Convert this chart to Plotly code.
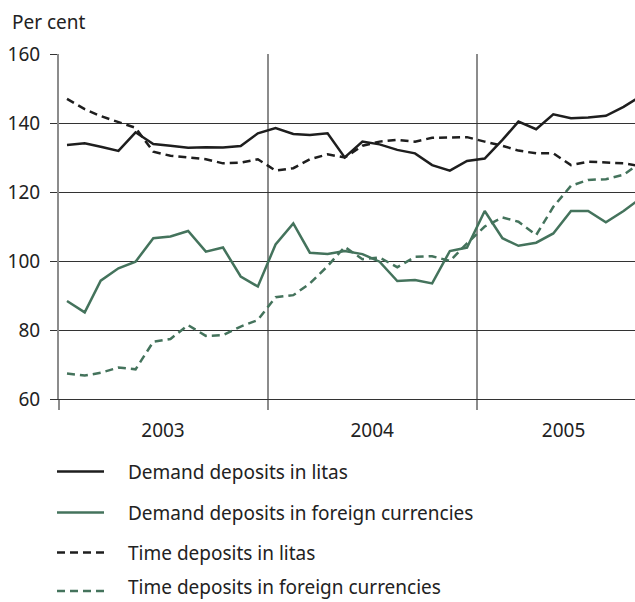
import pandas as pd
import plotly.graph_objects as go

# Monthly observations, Jan 2003 – Oct 2005
months = pd.date_range("2003-01-01", "2005-10-01", freq="MS") + pd.Timedelta(days=14)

demand_litas = [133.6, 134.1, 133.1, 131.9, 137.3, 133.9, 133.4, 132.8, 133.0, 132.9, 133.3, 137.0,
                138.5, 136.8, 136.5, 137.0, 130.0, 134.6, 133.8, 132.2, 131.2, 127.8, 126.2, 129.0,
                129.7, 135.1, 140.4, 138.2, 142.5, 141.4, 141.6, 142.1, 144.7, 147.8]
demand_fx = [88.4, 85.1, 94.3, 97.9, 99.8, 106.6, 107.1, 108.7, 102.7, 103.9, 95.5, 92.6,
             104.8, 110.9, 102.4, 102.0, 102.9, 102.0, 99.8, 94.2, 94.5, 93.5, 102.9, 103.9,
             114.5, 106.6, 104.4, 105.3, 108.0, 114.5, 114.5, 111.2, 114.5, 118.2]
time_litas = [147.0, 144.0, 142.0, 140.2, 138.6, 131.7, 130.5, 130.0, 129.5, 128.3, 128.5, 129.5,
              126.2, 126.9, 129.5, 130.9, 130.0, 133.4, 134.6, 135.1, 134.6, 135.7, 135.7, 135.9,
              134.6, 133.4, 132.0, 131.2, 131.2, 127.8, 128.8, 128.5, 128.3, 127.5]
time_fx = [67.4, 66.8, 67.6, 69.1, 68.6, 76.6, 77.4, 81.4, 78.3, 78.5, 81.0, 82.9,
           89.5, 90.1, 93.5, 98.5, 104.1, 100.5, 101.0, 98.2, 101.2, 101.4, 100.0, 105.1,
           110.0, 112.6, 111.4, 107.5, 115.7, 121.8, 123.5, 123.7, 125.0, 128.5]

names = ["Demand deposits in litas", "Demand deposits in foreign currencies",
         "Time deposits in litas", "Time deposits in foreign currencies"]
year_labels = ["2003", "2004", "2005"]
year_label_pos = ["2003-07-02", "2004-07-02", "2005-06-02"]
year_bounds = ["2003-01-01", "2004-01-01", "2005-01-01"]
y_ticks = [60, 80, 100, 120, 140, 160]

BLACK = "#1e1e1e"
GREEN = "#44735c"
FONT = "Noto Sans"
series = [
    (demand_litas, BLACK, "solid"),
    (demand_fx, GREEN, "solid"),
    (time_litas, BLACK, "8px,5px"),
    (time_fx, GREEN, "8px,5px"),
]

fig = go.Figure()
for (vals, col, dash), name in zip(series, names):
    fig.add_trace(go.Scatter(x=months, y=vals, mode="lines", name=name,
                             line=dict(color=col, width=2.5, dash=dash),
                             showlegend=False, cliponaxis=True))

L, R, T, B = 59, 635, 54, 399
W, H = 635, 602
pw, ph = R - L, B - T

fig.update_layout(
    width=W, height=H,
    margin=dict(l=L, r=W - R, t=T, b=H - B, pad=0),
    paper_bgcolor="white", plot_bgcolor="white",
    font=dict(family=FONT, size=19, color="#222222"),
)
fig.update_xaxes(
    range=["2003-01-01", "2005-10-05"],
    tickmode="array", tickvals=year_label_pos, ticktext=year_labels,
    ticks="", showgrid=False, zeroline=False,
    showline=True, linecolor="#333333", linewidth=1,
    ticklabelstandoff=14,
    tickfont=dict(size=19, color="#222222"),
    minor=dict(tickmode="array", tickvals=year_bounds, ticks="outside", ticklen=10,
               tickwidth=2, tickcolor="#8c8c8c", showgrid=True,
               gridcolor="#8c8c8c", gridwidth=2),
)
fig.update_yaxes(
    range=[60, 160], tickmode="array", tickvals=y_ticks,
    showgrid=True, gridcolor="#333333", gridwidth=1, zeroline=False,
    showline=True, linecolor="#8c8c8c", linewidth=2,
    ticks="outside", ticklen=7, tickcolor="#333333", tickwidth=1,
    ticklabelstandoff=6,
    tickfont=dict(size=19, color="#222222"),
)

fig.add_annotation(text="Per cent", xref="paper", yref="paper",
                   x=(10 - L) / pw, y=(B - 22) / ph, xanchor="left", yanchor="middle",
                   showarrow=False, font=dict(size=19, color="#222222", family=FONT))

# Legend drawn below the plot
leg_rows = [471.5, 512.5, 552.5, 591]
for i, ((vals, col, dash), name, yy) in enumerate(zip(series, names, leg_rows)):
    yp = (B - yy) / ph
    fig.add_shape(type="line", xref="paper", yref="paper",
                  x0=(57 - L) / pw, x1=(104 - L) / pw, y0=yp, y1=yp,
                  line=dict(color=col, width=2.5, dash=dash))
    if i == len(names) - 1:
        # keep the last label inside the page: anchor its box to the bottom edge
        fig.add_annotation(text=name, xref="paper", yref="paper",
                           x=(127 - L) / pw, y=(B - (H - 1)) / ph,
                           xanchor="left", yanchor="bottom", borderpad=0,
                           showarrow=False, font=dict(size=19, color="#222222", family=FONT))
    else:
        fig.add_annotation(text=name, xref="paper", yref="paper",
                           x=(127 - L) / pw, y=yp,
                           xanchor="left", yanchor="middle", borderpad=0,
                           showarrow=False, font=dict(size=19, color="#222222", family=FONT))

fig.write_html("out.html", config={"displayModeBar": False},
               post_script="document.body.style.margin='0';document.body.style.overflow='hidden';")
